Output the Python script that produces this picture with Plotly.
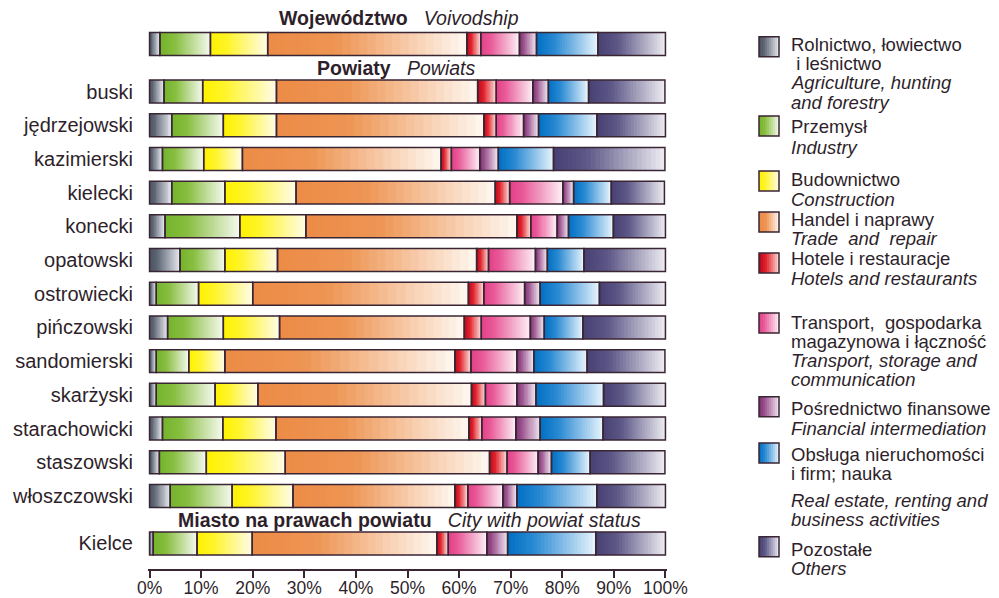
import plotly.graph_objects as go

# ---------------- data ----------------
rows = ["Województwo", "buski", "jędrzejowski", "kazimierski", "kielecki", "konecki",
        "opatowski", "ostrowiecki", "pińczowski", "sandomierski", "skarżyski",
        "starachowicki", "staszowski", "włoszczowski", "Kielce"]
row_labels = ["", "buski", "jędrzejowski", "kazimierski", "kielecki", "konecki",
              "opatowski", "ostrowiecki", "pińczowski", "sandomierski", "skarżyski",
              "starachowicki", "staszowski", "włoszczowski", "Kielce"]

agriculture  = [2.0, 2.8, 4.3, 2.5, 4.3, 3.0, 5.9, 1.3, 3.5, 1.3, 1.3, 2.5, 1.9, 4.0, 0.7]
industry     = [9.8, 7.5, 10.0, 8.0, 10.3, 14.5, 8.7, 8.2, 10.8, 6.3, 11.4, 11.7, 9.1, 12.0, 8.5]
construction = [11.1, 14.3, 10.3, 7.5, 13.8, 12.8, 10.2, 10.5, 10.9, 7.0, 8.3, 10.3, 15.3, 11.8, 10.7]
trade        = [38.6, 39.0, 40.2, 38.5, 38.6, 40.9, 38.6, 41.8, 35.8, 44.6, 41.4, 37.4, 39.6, 31.4, 35.8]
hotels       = [2.7, 3.6, 2.4, 2.0, 2.8, 2.7, 2.3, 3.0, 3.3, 3.1, 2.7, 2.5, 3.4, 2.5, 2.2]
transport    = [7.5, 7.1, 5.3, 5.5, 10.3, 5.1, 9.1, 7.9, 9.5, 8.9, 6.1, 6.6, 6.0, 6.8, 7.5]
financial    = [3.3, 3.0, 2.9, 3.6, 2.1, 2.2, 2.3, 3.0, 2.7, 3.3, 3.7, 4.7, 2.6, 2.7, 4.0]
real_estate  = [11.9, 7.8, 11.3, 10.7, 7.3, 8.7, 7.1, 11.5, 7.5, 10.3, 13.1, 12.2, 7.5, 15.5, 17.1]
others       = [13.1, 14.8, 13.3, 21.6, 10.3, 10.1, 15.8, 12.8, 16.0, 15.1, 12.0, 12.1, 14.5, 13.3, 13.5]

tick_vals = [0, 10, 20, 30, 40, 50, 60, 70, 80, 90, 100]
tick_text = ["0%", "10%", "20%", "30%", "40%", "50%", "60%", "70%", "80%", "90%", "100%"]

series = [agriculture, industry, construction, trade, hotels, transport, financial, real_estate, others]

legend_lines = [
    [("Rolnictwo, łowiectwo", False), ("&nbsp;i leśnictwo", False), ("Agriculture, hunting", True), ("and forestry", True)],
    [("Przemysł", False), ("Industry", True)],
    [("Budownictwo", False), ("Construction", True)],
    [("Handel i naprawy", False), ("Trade&nbsp; and&nbsp; repair", True)],
    [("Hotele i restauracje", False), ("Hotels and restaurants", True)],
    [("Transport,&nbsp; gospodarka", False), ("magazynowa i łączność", False), ("Transport, storage and", True), ("communication", True)],
    [("Pośrednictwo finansowe", False), ("Financial intermediation", True)],
    [("Obsługa nieruchomości", False), ("i firm; nauka", False), ("Real estate, renting and", True), ("business activities", True)],
    [("Pozostałe", False), ("Others", True)],
]

# ---------------- styles ----------------
gradients = [
    [(0, "#4b5363"), (0.25, "#5e6675"), (1, "#e6e9ee")],
    [(0, "#74b42a"), (0.3, "#88be40"), (1, "#f5f9ef")],
    [(0, "#fff200"), (0.3, "#fff42a"), (1, "#fffce8")],
    [(0, "#ec8b46"), (0.35, "#ee9554"), (1, "#fff8f1")],
    [(0, "#b0081e"), (0.35, "#e2222c"), (1, "#fadcd8")],
    [(0, "#e33f88"), (0.25, "#e95a98"), (1, "#fdf0f6")],
    [(0, "#7c2d70"), (0.3, "#9c5690"), (1, "#f1e6f0")],
    [(0, "#006fc3"), (0.3, "#2a8ad3"), (1, "#e9f5fd")],
    [(0, "#474073"), (0.3, "#5d5887"), (1, "#eeedf3")],
]
OUTLINE = "#3a2533"
TEXT = "#2e1f2b"
FONT = "Liberation Sans, Arial, sans-serif"
NSLICE = 24


def hex2rgb(h):
    h = h.lstrip("#")
    return tuple(int(h[i:i + 2], 16) for i in (0, 2, 4))


def grad_color(stops, t):
    for (p0, c0), (p1, c1) in zip(stops[:-1], stops[1:]):
        if t <= p1:
            f = 0 if p1 == p0 else (t - p0) / (p1 - p0)
            a, b = hex2rgb(c0), hex2rgb(c1)
            return "rgb(%d,%d,%d)" % tuple(round(a[i] + (b[i] - a[i]) * f) for i in range(3))
    return stops[-1][1]


# row positions (layout): gap between groups
GAP = 1.41
ypos = [0.0] + [GAP + i for i in range(13)] + [GAP + 12 + GAP]
BAR_W = 0.68

fig = go.Figure()

starts = []
acc = [0.0] * len(rows)
for s in series:
    starts.append(acc[:])
    acc = [a + v for a, v in zip(acc, s)]

# gradient fill, drawn as thin slices of each segment
for ci, s in enumerate(series):
    for k in range(NSLICE):
        t = (k + 0.5) / NSLICE
        widen = 1.7 if k < NSLICE - 1 else 1.0
        fig.add_trace(go.Bar(
            orientation="h",
            y=ypos,
            x=[v / NSLICE * widen for v in s],
            base=[st + v * k / NSLICE for st, v in zip(starts[ci], s)],
            width=BAR_W,
            marker=dict(color=grad_color(gradients[ci], t), line=dict(width=0)),
            showlegend=False, hoverinfo="skip",
        ))

# segment outlines
for ci, s in enumerate(series):
    fig.add_trace(go.Bar(
        orientation="h", y=ypos, x=s, base=starts[ci], width=BAR_W,
        marker=dict(color="rgba(0,0,0,0)", line=dict(color=OUTLINE, width=1.5)),
        showlegend=False, hovertemplate="%{x:.1f}%<extra></extra>",
    ))

# ---------------- layout ----------------
L, R, T, B = 148, 332, 0, 29
W, H = 999, 598
PW, PH = W - L - R, H - T - B
Y_TOP = -44 / 33.7
Y_BOT = (569 - 44) / 33.7


def px2paper(px, py):
    return (px - L) / PW, 1 - (py - T) / PH


annotations = []
headers = [
    ("<b>Województwo</b>&nbsp;&nbsp;&nbsp;<i>Voivodship</i>", 48.4, (18 - 44) / 33.7),
    ("<b>Powiaty</b>&nbsp;&nbsp;&nbsp;<i>Powiats</i>", 47.8, (68 - 44) / 33.7),
    ("<b>Miasto na prawach powiatu</b>&nbsp;&nbsp;&nbsp;<i>City with powiat status</i>", 50.3, (520 - 44) / 33.7),
]
for txt, xx, yy in headers:
    annotations.append(dict(text=txt, x=xx, y=yy, xref="x", yref="y", showarrow=False,
                            xanchor="center", yanchor="middle",
                            font=dict(family=FONT, size=19.5, color=TEXT)))

# legend (custom, multi-line, with gradient swatches)
line_y = [
    [45, 64, 83, 102],
    [126.7, 147.7],
    [180, 199],
    [219, 238],
    [259, 278.3],
    [322, 341.2, 360.5, 379.5],
    [408.3, 428.3],
    [454, 473.3, 500, 519],
    [549.3, 568.3],
]
swatch_cy = [46.7, 126, 181, 222, 263, 323, 406.7, 453, 546.7]

shapes = []
SW_X0, SW_X1, SW_H = 759, 779, 20
for ci in range(len(series)):
    for li, (txt, ital) in enumerate(legend_lines[ci]):
        xp, yp = px2paper(790, line_y[ci][li])
        annotations.append(dict(text=("<i>%s</i>" % txt) if ital else txt, x=xp, y=yp,
                                xref="paper", yref="paper", showarrow=False,
                                xanchor="left", yanchor="middle", borderpad=0,
                                font=dict(family=FONT, size=18.5, color=TEXT)))
    cy = swatch_cy[ci]
    nsl = 10
    for k in range(nsl):
        x0 = SW_X0 + (SW_X1 - SW_X0) * k / nsl
        x1 = SW_X0 + (SW_X1 - SW_X0) * (k + 1.6) / nsl if k < nsl - 1 else SW_X1
        px0, py0 = px2paper(x0, cy + SW_H / 2)
        px1, py1 = px2paper(x1, cy - SW_H / 2)
        shapes.append(dict(type="rect", xref="paper", yref="paper", x0=px0, x1=px1, y0=py0, y1=py1,
                           fillcolor=grad_color(gradients[ci], (k + 0.5) / nsl), line=dict(width=0)))
    px0, py0 = px2paper(SW_X0, cy + SW_H / 2)
    px1, py1 = px2paper(SW_X1, cy - SW_H / 2)
    shapes.append(dict(type="rect", xref="paper", yref="paper", x0=px0, x1=px1, y0=py0, y1=py1,
                       fillcolor="rgba(0,0,0,0)", line=dict(color=OUTLINE, width=1.5)))

fig.update_layout(
    width=W, height=H,
    margin=dict(l=L, r=R, t=T, b=B, autoexpand=False),
    paper_bgcolor="white", plot_bgcolor="white",
    barmode="overlay",
    showlegend=False,
    font=dict(family=FONT, color=TEXT),
    annotations=annotations,
    shapes=shapes,
    xaxis=dict(range=[-0.3, 100.3], tickvals=tick_vals, ticktext=tick_text,
               showgrid=False, zeroline=False, showline=True, linecolor=OUTLINE, linewidth=1.5,
               ticks="outside", ticklen=7, tickwidth=1.5, tickcolor=OUTLINE,
               ticklabelstandoff=-5,
               tickfont=dict(family=FONT, size=17.5, color=TEXT), automargin=False, fixedrange=True),
    yaxis=dict(range=[Y_BOT, Y_TOP], tickvals=ypos, ticktext=row_labels,
               showgrid=False, zeroline=False, showline=False, ticks="",
               ticklabelstandoff=14,
               tickfont=dict(family=FONT, size=20, color=TEXT), automargin=False, fixedrange=True),
)

fig.write_html("out.html", config={"displayModeBar": False},
               post_script="document.body.style.margin='0px';document.body.style.overflow='hidden';")
